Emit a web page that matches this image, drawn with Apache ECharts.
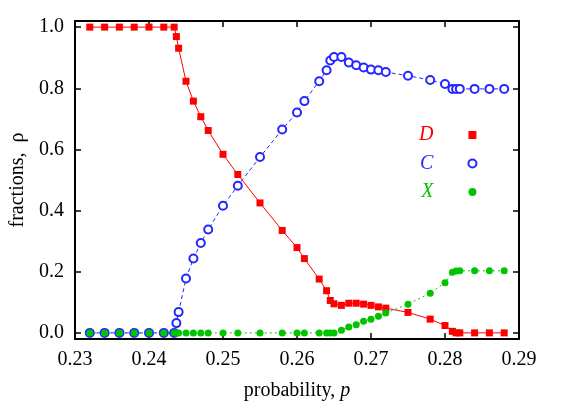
<!DOCTYPE html>
<html>
<head>
<meta charset="utf-8">
<script src="https://cdn.jsdelivr.net/npm/echarts@6/dist/echarts.min.js"></script>
<style>
  html, body { margin: 0; padding: 0; background: #fff; }
  #chart { width: 573px; height: 406px; }
</style>
</head>
<body>
<div id="chart"></div>
<script>
// probability p (shared by all three curves)
const probability = [0.232, 0.234, 0.236, 0.238, 0.240, 0.242, 0.2434, 0.2437, 0.244, 0.245,
  0.246, 0.247, 0.248, 0.250, 0.252, 0.255, 0.258, 0.260, 0.261, 0.263,
  0.264, 0.2645, 0.265, 0.266, 0.267, 0.268, 0.269, 0.270, 0.271, 0.272,
  0.275, 0.278, 0.280, 0.281, 0.2815, 0.282, 0.284, 0.286, 0.288];

const fractionD = [1, 1, 1, 1, 1, 1, 1, 0.969, 0.931, 0.823,
  0.758, 0.707, 0.662, 0.584, 0.518, 0.425, 0.335, 0.279, 0.243, 0.176,
  0.138, 0.106, 0.095, 0.090, 0.097, 0.097, 0.094, 0.090, 0.085, 0.081,
  0.067, 0.045, 0.024, 0.005, 0, 0, 0, 0, 0];

const fractionC = [0, 0, 0, 0, 0, 0, 0, 0.032, 0.068, 0.178,
  0.243, 0.294, 0.338, 0.416, 0.481, 0.575, 0.665, 0.721, 0.758, 0.823,
  0.859, 0.891, 0.902, 0.902, 0.884, 0.875, 0.868, 0.861, 0.859, 0.853,
  0.841, 0.827, 0.814, 0.798, 0.798, 0.798, 0.798, 0.798, 0.798];

const fractionX = [0, 0, 0, 0, 0, 0, 0, 0, 0, 0,
  0, 0, 0, 0, 0, 0, 0, 0, 0, 0,
  0, 0, 0, 0.009, 0.019, 0.027, 0.038, 0.045, 0.054, 0.065,
  0.094, 0.130, 0.164, 0.198, 0.202, 0.203, 0.203, 0.203, 0.203];

const xTicks = [0.23, 0.24, 0.25, 0.26, 0.27, 0.28, 0.29];
const yTicks = [0, 0.2, 0.4, 0.6, 0.8, 1.0];

const RED = '#ff0000';
const BLUE = '#2626ff';
const GREEN = '#00c400';
const FONT = '"Liberation Serif", "DejaVu Serif", serif';

const pairs = (ys) => probability.map((p, i) => [p, ys[i]]);

const chart = echarts.init(document.getElementById('chart'));

// shared frame settings for the mirrored axes
const frameLine = { show: true, onZero: false, lineStyle: { color: '#000', width: 2 } };
const frameTick = { show: true, inside: true, length: 6, lineStyle: { color: '#000', width: 1.5 } };

const option = {
  animation: false,
  grid: { left: 75, right: 54, top: 21, bottom: 66 },
  legend: {
    orient: 'vertical',
    left: 414,
    top: 120,
    align: 'right',
    itemGap: 8.5,
    itemWidth: 8,
    itemHeight: 8,
    textStyle: { fontFamily: FONT, fontStyle: 'italic', fontSize: 20, padding: [0, 30, 0, 0] },
    data: [
      { name: 'D', icon: 'rect', textStyle: { color: RED } },
      { name: 'C', icon: 'emptyCircle', textStyle: { color: BLUE } },
      { name: 'X', icon: 'circle', textStyle: { color: GREEN } }
    ]
  },
  xAxis: [
    {
      type: 'value',
      min: 0.23,
      max: 0.29,
      name: 'probability, {i|p}',
      nameLocation: 'middle',
      nameGap: 42,
      nameTextStyle: {
        fontFamily: FONT, fontSize: 20, color: '#000',
        rich: { i: { fontFamily: FONT, fontSize: 20, fontStyle: 'italic', color: '#000' } }
      },
      axisLine: frameLine,
      axisTick: Object.assign({ customValues: xTicks }, frameTick),
      axisLabel: {
        customValues: xTicks,
        margin: 11,
        fontFamily: FONT, fontSize: 20, color: '#000',
        formatter: (v) => v.toFixed(2)
      },
      splitLine: { show: false }
    },
    {
      type: 'value',
      position: 'top',
      min: 0.23,
      max: 0.29,
      axisLine: frameLine,
      axisTick: Object.assign({ customValues: xTicks }, frameTick),
      axisLabel: { show: false },
      splitLine: { show: false }
    }
  ],
  yAxis: [
    {
      type: 'value',
      min: -0.02,
      max: 1.02,
      name: 'fractions,  ρ',
      nameLocation: 'middle',
      nameGap: 46,
      nameTextStyle: { fontFamily: FONT, fontSize: 20, color: '#000' },
      axisLine: frameLine,
      axisTick: Object.assign({ customValues: yTicks }, frameTick),
      axisLabel: {
        customValues: yTicks,
        margin: 11,
        fontFamily: FONT, fontSize: 20, color: '#000',
        formatter: (v) => v.toFixed(1)
      },
      splitLine: { show: false }
    },
    {
      type: 'value',
      position: 'right',
      min: -0.02,
      max: 1.02,
      axisLine: frameLine,
      axisTick: Object.assign({ customValues: yTicks }, frameTick),
      axisLabel: { show: false },
      splitLine: { show: false }
    }
  ],
  series: [
    {
      name: 'C',
      type: 'line',
      data: pairs(fractionC),
      symbol: 'emptyCircle',
      symbolSize: 8,
      itemStyle: { color: BLUE, borderColor: BLUE, borderWidth: 1 },
      lineStyle: { color: BLUE, width: 1, type: [4, 3] }
    },
    {
      name: 'D',
      type: 'line',
      data: pairs(fractionD),
      symbol: 'rect',
      symbolSize: 7,
      itemStyle: { color: RED },
      lineStyle: { color: RED, width: 1 }
    },
    {
      name: 'X',
      type: 'line',
      data: pairs(fractionX),
      symbol: 'circle',
      symbolSize: 7,
      itemStyle: { color: GREEN },
      lineStyle: { color: GREEN, width: 1, type: [2, 3] }
    }
  ]
};

chart.setOption(option);
</script>
</body>
</html>
